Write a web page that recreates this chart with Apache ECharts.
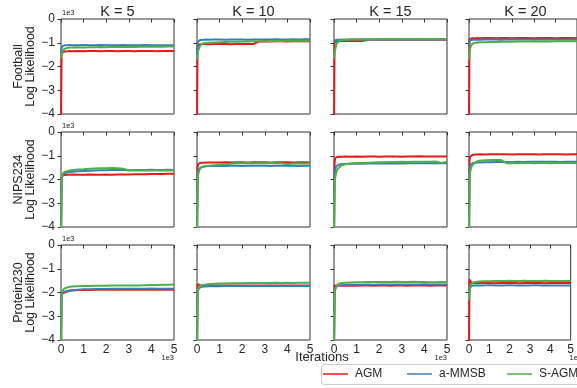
<!DOCTYPE html>
<html>
<head>
<meta charset="utf-8">
<script src="https://cdn.jsdelivr.net/npm/echarts@6/dist/echarts.min.js"></script>
<style>html,body{margin:0;padding:0;background:#fff;}#c{width:577px;height:388px;}</style>
</head>
<body>
<div id="c"></div>
<script>
// ---- data (log likelihood, in units of 1e3) ----
const iterations = [0,25,50,100,150,200,300,400,500,750,1000,1250,1500,1750,2000,2250,2500,2750,3000,3250,3500,3750,4000,4250,4500,4750,5000];
const kLabels = ['K = 5','K = 10','K = 15','K = 20'];
const datasetNames = ['Football','NIPS234','Protein230'];
const methodNames = ['AGM','a-MMSB','S-AGM'];
const yTickValues = [0,-1,-2,-3,-4];
const xTickValues = [0,1,2,3,4,5];

// Football
const football_k5_agm  = [-4.5,-1.55,-1.42,-1.38,-1.37,-1.36,-1.36,-1.35,-1.36,-1.35,-1.36,-1.35,-1.35,-1.36,-1.35,-1.35,-1.36,-1.35,-1.35,-1.36,-1.35,-1.35,-1.35,-1.36,-1.35,-1.35,-1.35];
const football_k5_mmsb = [-1.45,-1.25,-1.15,-1.12,-1.11,-1.10,-1.10,-1.09,-1.10,-1.10,-1.09,-1.10,-1.10,-1.09,-1.10,-1.10,-1.10,-1.09,-1.10,-1.10,-1.10,-1.09,-1.10,-1.10,-1.10,-1.10,-1.10];
const football_k5_sagm = [-1.65,-1.50,-1.38,-1.30,-1.26,-1.23,-1.21,-1.20,-1.20,-1.19,-1.20,-1.19,-1.19,-1.18,-1.19,-1.18,-1.18,-1.18,-1.17,-1.18,-1.17,-1.17,-1.17,-1.16,-1.17,-1.16,-1.16];

const football_k10_agm  = [-4.5,-1.20,-1.10,-1.07,-1.06,-1.05,-1.05,-1.05,-1.06,-1.05,-1.05,-1.05,-1.06,-1.05,-1.05,-1.05,-1.05,-0.95,-0.94,-0.95,-0.94,-0.94,-0.95,-0.94,-0.94,-0.94,-0.94];
const football_k10_mmsb = [-1.70,-1.10,-0.95,-0.90,-0.88,-0.87,-0.87,-0.86,-0.87,-0.86,-0.86,-0.87,-0.86,-0.86,-0.86,-0.87,-0.86,-0.86,-0.86,-0.86,-0.85,-0.86,-0.86,-0.85,-0.86,-0.85,-0.85];
const football_k10_sagm = [-1.70,-1.55,-1.35,-1.20,-1.10,-1.05,-1.02,-1.01,-1.00,-0.99,-0.98,-0.97,-0.96,-0.96,-0.95,-0.95,-0.94,-0.94,-0.94,-0.93,-0.93,-0.93,-0.92,-0.92,-0.92,-0.92,-0.91];

const football_k15_agm  = [-4.5,-0.98,-0.95,-0.94,-0.94,-0.93,-0.93,-0.93,-0.93,-0.93,-0.93,-0.93,-0.87,-0.87,-0.87,-0.86,-0.87,-0.87,-0.86,-0.87,-0.87,-0.86,-0.87,-0.87,-0.86,-0.87,-0.87];
const football_k15_mmsb = [-1.00,-0.92,-0.89,-0.88,-0.87,-0.87,-0.87,-0.86,-0.87,-0.86,-0.86,-0.86,-0.86,-0.86,-0.86,-0.85,-0.86,-0.86,-0.86,-0.85,-0.86,-0.86,-0.86,-0.86,-0.85,-0.86,-0.86];
const football_k15_sagm = [-1.65,-1.50,-1.30,-1.10,-1.00,-0.95,-0.90,-0.88,-0.87,-0.86,-0.86,-0.85,-0.86,-0.85,-0.85,-0.85,-0.84,-0.85,-0.85,-0.85,-0.84,-0.85,-0.84,-0.85,-0.84,-0.84,-0.85];

const football_k20_agm  = [-4.5,-0.85,-0.82,-0.81,-0.81,-0.80,-0.81,-0.80,-0.81,-0.80,-0.80,-0.81,-0.80,-0.80,-0.81,-0.80,-0.80,-0.80,-0.81,-0.80,-0.80,-0.80,-0.81,-0.80,-0.80,-0.80,-0.81];
const football_k20_mmsb = [-1.10,-0.92,-0.89,-0.88,-0.87,-0.87,-0.87,-0.86,-0.87,-0.86,-0.86,-0.86,-0.87,-0.86,-0.86,-0.86,-0.86,-0.86,-0.87,-0.86,-0.86,-0.86,-0.86,-0.86,-0.86,-0.86,-0.86];
const football_k20_sagm = [-1.70,-1.45,-1.25,-1.10,-1.05,-1.02,-1.00,-0.99,-0.98,-0.98,-0.97,-0.97,-0.96,-0.96,-0.96,-0.95,-0.95,-0.95,-0.95,-0.95,-0.94,-0.95,-0.94,-0.94,-0.94,-0.94,-0.94];

// NIPS234
const nips_k5_agm  = [-4.5,-1.95,-1.85,-1.82,-1.81,-1.80,-1.80,-1.80,-1.79,-1.80,-1.80,-1.79,-1.80,-1.80,-1.79,-1.80,-1.79,-1.79,-1.79,-1.78,-1.78,-1.78,-1.77,-1.77,-1.77,-1.76,-1.76];
const nips_k5_mmsb = [-4.5,-2.00,-1.85,-1.78,-1.74,-1.72,-1.70,-1.68,-1.67,-1.65,-1.64,-1.63,-1.62,-1.61,-1.61,-1.60,-1.60,-1.60,-1.61,-1.60,-1.60,-1.60,-1.59,-1.60,-1.60,-1.59,-1.60];
const nips_k5_sagm = [-4.5,-1.95,-1.80,-1.72,-1.68,-1.66,-1.64,-1.62,-1.60,-1.58,-1.57,-1.55,-1.54,-1.53,-1.53,-1.52,-1.53,-1.55,-1.62,-1.62,-1.61,-1.62,-1.62,-1.61,-1.62,-1.62,-1.62];

const nips_k10_agm  = [-4.5,-1.50,-1.35,-1.31,-1.30,-1.30,-1.29,-1.29,-1.28,-1.28,-1.28,-1.27,-1.28,-1.27,-1.27,-1.28,-1.27,-1.27,-1.27,-1.28,-1.27,-1.27,-1.27,-1.28,-1.27,-1.27,-1.28];
const nips_k10_mmsb = [-4.5,-1.90,-1.70,-1.55,-1.50,-1.47,-1.45,-1.44,-1.43,-1.43,-1.42,-1.43,-1.42,-1.42,-1.43,-1.42,-1.42,-1.42,-1.42,-1.43,-1.42,-1.42,-1.42,-1.42,-1.43,-1.42,-1.42];
const nips_k10_sagm = [-4.5,-2.00,-1.80,-1.60,-1.52,-1.48,-1.45,-1.43,-1.42,-1.40,-1.38,-1.36,-1.34,-1.31,-1.32,-1.31,-1.32,-1.31,-1.32,-1.31,-1.32,-1.32,-1.36,-1.33,-1.32,-1.33,-1.33];

const nips_k15_agm  = [-4.5,-1.30,-1.10,-1.06,-1.05,-1.04,-1.04,-1.04,-1.03,-1.04,-1.03,-1.04,-1.03,-1.03,-1.04,-1.03,-1.03,-1.03,-1.04,-1.03,-1.03,-1.02,-1.03,-1.03,-1.03,-1.03,-1.03];
const nips_k15_mmsb = [-4.5,-1.80,-1.60,-1.45,-1.40,-1.38,-1.36,-1.35,-1.35,-1.34,-1.34,-1.34,-1.33,-1.33,-1.33,-1.33,-1.33,-1.32,-1.33,-1.32,-1.32,-1.32,-1.32,-1.32,-1.32,-1.32,-1.32];
const nips_k15_sagm = [-4.5,-2.20,-1.95,-1.70,-1.58,-1.50,-1.42,-1.38,-1.36,-1.33,-1.31,-1.30,-1.29,-1.28,-1.27,-1.27,-1.26,-1.26,-1.25,-1.26,-1.25,-1.25,-1.25,-1.25,-1.24,-1.30,-1.25];

const nips_k20_agm  = [-4.5,-1.20,-1.05,-1.00,-0.97,-0.96,-0.95,-0.95,-0.94,-0.95,-0.94,-0.94,-0.94,-0.94,-0.95,-0.94,-0.94,-0.94,-0.94,-0.95,-0.94,-0.94,-0.94,-0.94,-0.95,-0.94,-0.94];
const nips_k20_mmsb = [-4.5,-1.60,-1.45,-1.35,-1.32,-1.30,-1.29,-1.28,-1.28,-1.27,-1.27,-1.26,-1.26,-1.26,-1.26,-1.25,-1.26,-1.25,-1.25,-1.25,-1.25,-1.25,-1.25,-1.26,-1.25,-1.25,-1.25];
const nips_k20_sagm = [-4.5,-1.90,-1.70,-1.50,-1.40,-1.33,-1.27,-1.23,-1.21,-1.19,-1.18,-1.18,-1.18,-1.32,-1.31,-1.32,-1.31,-1.31,-1.32,-1.31,-1.31,-1.32,-1.31,-1.31,-1.31,-1.31,-1.32];

// Protein230
const protein_k5_agm  = [-4.5,-2.15,-2.05,-2.02,-2.00,-1.98,-1.95,-1.93,-1.92,-1.90,-1.89,-1.89,-1.88,-1.88,-1.88,-1.88,-1.88,-1.88,-1.87,-1.88,-1.88,-1.88,-1.87,-1.88,-1.88,-1.88,-1.88];
const protein_k5_mmsb = [-4.5,-2.10,-2.05,-2.00,-1.97,-1.95,-1.93,-1.91,-1.90,-1.88,-1.86,-1.86,-1.85,-1.85,-1.85,-1.84,-1.84,-1.84,-1.84,-1.84,-1.84,-1.84,-1.83,-1.84,-1.84,-1.84,-1.84];
const protein_k5_sagm = [-4.5,-2.05,-1.95,-1.87,-1.83,-1.80,-1.78,-1.76,-1.75,-1.74,-1.73,-1.73,-1.72,-1.72,-1.72,-1.71,-1.71,-1.71,-1.70,-1.70,-1.70,-1.69,-1.68,-1.68,-1.67,-1.67,-1.66];

const protein_k10_agm  = [-4.5,-1.65,-1.63,-1.68,-1.70,-1.70,-1.70,-1.70,-1.71,-1.70,-1.70,-1.70,-1.70,-1.71,-1.70,-1.70,-1.70,-1.70,-1.70,-1.71,-1.70,-1.70,-1.70,-1.70,-1.70,-1.71,-1.70];
const protein_k10_mmsb = [-4.5,-2.00,-1.88,-1.80,-1.77,-1.76,-1.75,-1.75,-1.74,-1.74,-1.74,-1.73,-1.73,-1.73,-1.73,-1.73,-1.73,-1.73,-1.73,-1.72,-1.73,-1.73,-1.73,-1.73,-1.73,-1.73,-1.73];
const protein_k10_sagm = [-4.5,-2.00,-1.85,-1.75,-1.72,-1.70,-1.68,-1.66,-1.65,-1.63,-1.62,-1.62,-1.61,-1.61,-1.61,-1.60,-1.60,-1.60,-1.60,-1.60,-1.59,-1.60,-1.59,-1.60,-1.59,-1.59,-1.59];

const protein_k15_agm  = [-4.5,-1.70,-1.68,-1.70,-1.71,-1.71,-1.72,-1.71,-1.72,-1.71,-1.72,-1.71,-1.71,-1.72,-1.71,-1.71,-1.72,-1.71,-1.71,-1.72,-1.71,-1.71,-1.71,-1.72,-1.71,-1.71,-1.71];
const protein_k15_mmsb = [-4.5,-2.00,-1.85,-1.76,-1.72,-1.70,-1.69,-1.68,-1.68,-1.67,-1.67,-1.67,-1.66,-1.67,-1.66,-1.66,-1.66,-1.66,-1.66,-1.66,-1.66,-1.66,-1.65,-1.66,-1.66,-1.66,-1.66];
const protein_k15_sagm = [-4.5,-2.10,-1.90,-1.75,-1.68,-1.64,-1.61,-1.60,-1.59,-1.58,-1.57,-1.57,-1.56,-1.56,-1.56,-1.56,-1.56,-1.55,-1.56,-1.56,-1.55,-1.56,-1.56,-1.57,-1.57,-1.56,-1.57];

const protein_k20_agm  = [-4.5,-1.45,-1.50,-1.58,-1.60,-1.60,-1.60,-1.61,-1.60,-1.60,-1.60,-1.61,-1.60,-1.60,-1.60,-1.60,-1.61,-1.60,-1.60,-1.60,-1.60,-1.61,-1.60,-1.60,-1.60,-1.60,-1.60];
const protein_k20_mmsb = [-2.20,-1.90,-1.80,-1.74,-1.72,-1.71,-1.70,-1.70,-1.70,-1.70,-1.69,-1.70,-1.70,-1.70,-1.69,-1.70,-1.70,-1.70,-1.70,-1.69,-1.70,-1.70,-1.70,-1.70,-1.70,-1.70,-1.70];
const protein_k20_sagm = [-2.30,-1.95,-1.80,-1.68,-1.62,-1.58,-1.56,-1.55,-1.54,-1.53,-1.53,-1.52,-1.52,-1.52,-1.51,-1.52,-1.52,-1.51,-1.52,-1.52,-1.52,-1.51,-1.52,-1.52,-1.52,-1.52,-1.52];

const panels = [
  [[football_k5_agm,football_k5_mmsb,football_k5_sagm],[football_k10_agm,football_k10_mmsb,football_k10_sagm],[football_k15_agm,football_k15_mmsb,football_k15_sagm],[football_k20_agm,football_k20_mmsb,football_k20_sagm]],
  [[nips_k5_agm,nips_k5_mmsb,nips_k5_sagm],[nips_k10_agm,nips_k10_mmsb,nips_k10_sagm],[nips_k15_agm,nips_k15_mmsb,nips_k15_sagm],[nips_k20_agm,nips_k20_mmsb,nips_k20_sagm]],
  [[protein_k5_agm,protein_k5_mmsb,protein_k5_sagm],[protein_k10_agm,protein_k10_mmsb,protein_k10_sagm],[protein_k15_agm,protein_k15_mmsb,protein_k15_sagm],[protein_k20_agm,protein_k20_mmsb,protein_k20_sagm]]
];

// ---- layout / style ----
const colors = ['#e41a1c','#377eb8','#4daf4a'];
const FONT = 'Liberation Sans, Arial, sans-serif';
const TXT = '#262626';
const colLeft = [61,197,334,469];
const rowTop = [19,132,245];
const W = 113, H = 95;
const legendLeft = [321, 405, 505];

const grids = [], xAxes = [], yAxes = [], series = [], graphics = [];
let idx = 0;
for (let r = 0; r < 3; r++) {
  for (let c = 0; c < 4; c++) {
    grids.push({left: colLeft[c], top: rowTop[r], width: W, height: H, show: true,
      borderColor: '#333', borderWidth: 1, backgroundColor: 'transparent', containLabel: false});
    xAxes.push({type: 'value', gridIndex: idx, min: 0, max: 5000, interval: 1000,
      axisLine: {show: false}, splitLine: {show: false},
      axisTick: {show: true, length: 3.5, lineStyle: {color: '#333', width: 1}},
      axisLabel: {show: r === 2, margin: 4, fontSize: 12, color: TXT, fontFamily: FONT,
        formatter: v => String(v / 1000)}});
    yAxes.push({type: 'value', gridIndex: idx, min: -4, max: 0, interval: 1,
      axisLine: {show: false}, splitLine: {show: false},
      axisTick: {show: true, length: 3.5, lineStyle: {color: '#333', width: 1}},
      axisLabel: {show: c === 0, margin: 6, fontSize: 12, color: TXT, fontFamily: FONT,
        formatter: v => v < 0 ? '\u2212' + (-v) : String(v)},
      name: c === 0 ? datasetNames[r] + '\nLog Likelihood' : '',
      nameLocation: 'middle', nameRotate: 90, nameGap: 22,
      nameTextStyle: {fontSize: 12.5, color: TXT, fontFamily: FONT, lineHeight: 12.5}});
    for (let m = 0; m < 3; m++) {
      series.push({type: 'line', name: methodNames[m], xAxisIndex: idx, yAxisIndex: idx,
        data: iterations.map((it, i) => [it, panels[r][c][m][i]]),
        showSymbol: false, symbol: 'none', clip: true, animation: false,
        lineStyle: {color: colors[m], width: 2}, itemStyle: {color: colors[m]}, z: 2 + m});
    }
    if (c === 0) {
      graphics.push({type: 'text', left: colLeft[c] + 1, top: rowTop[r] - 10,
        style: {text: '1e3', fontSize: 7.5, fill: TXT, fontFamily: FONT}});
    }
    if (r === 2 && c !== 1) {
      graphics.push({type: 'text', x: colLeft[c] + W, y: 354,
        style: {text: '1e3', fontSize: 7.5, fill: TXT, fontFamily: FONT, align: 'right'}});
    }
    idx++;
  }
}
for (let c = 0; c < 4; c++) {
  graphics.push({type: 'text', x: colLeft[c] + W / 2, y: 4,
    style: {text: kLabels[c], fontSize: 14.5, fill: TXT, fontFamily: FONT, align: 'center'}});
}
graphics.push({type: 'text', x: 322, y: 351,
  style: {text: 'Iterations', fontSize: 13, fill: TXT, fontFamily: FONT, align: 'center'}});
// legend frame
graphics.push({type: 'rect', shape: {x: 321.5, y: 364.5, width: 280, height: 20, r: 3},
  style: {fill: '#fff', stroke: '#cccccc', lineWidth: 1}, z: 0});

const legends = methodNames.map((n, i) => ({
  data: [{name: n, icon: 'rect', itemStyle: {color: colors[i]}}],
  left: legendLeft[i], top: 365, orient: 'horizontal',
  itemWidth: 25, itemHeight: 1.5, padding: [3, 2, 3, 2],
  textStyle: {fontSize: 12, color: TXT, fontFamily: FONT, padding: [0, 0, 0, 2]}
}));

const chart = echarts.init(document.getElementById('c'), null, {renderer: 'canvas'});
chart.setOption({
  animation: false,
  backgroundColor: '#fff',
  grid: grids, xAxis: xAxes, yAxis: yAxes, series: series,
  legend: legends,
  graphic: graphics
});
</script>
</body>
</html>
